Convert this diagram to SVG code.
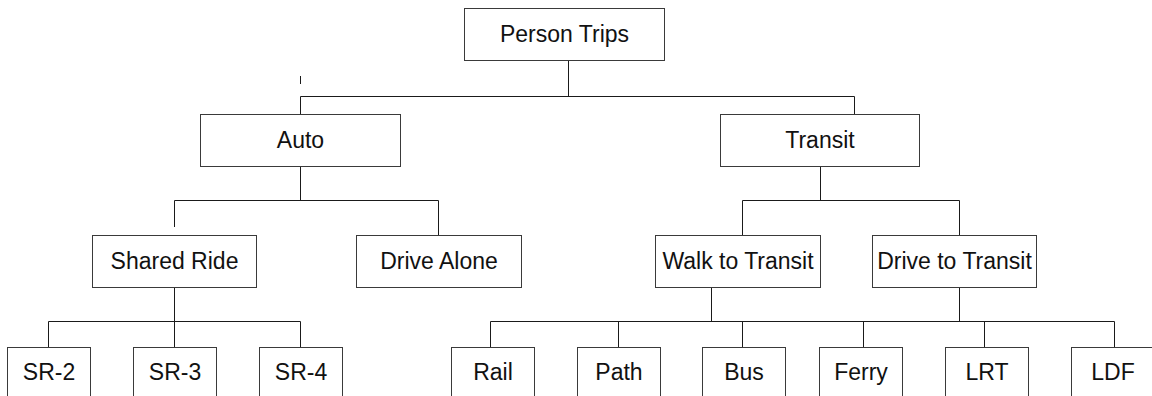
<svg xmlns="http://www.w3.org/2000/svg" width="1152" height="396" viewBox="0 0 1152 396">
  <style>
    .box { fill: #ffffff; stroke: #3a3a3a; stroke-width: 1; }
    .lbl { font-family: "Liberation Sans", Arial, sans-serif; font-size: 23px; fill: #111; text-anchor: middle; }
    .wire { fill: none; stroke: #1a1a1a; stroke-width: 1; }
  </style>
  <rect width="1152" height="396" fill="#ffffff"/>

  <!-- connectors -->
  <g id="connectors" class="wire">
    <path d="M568.5 60.5 V96.5"/>
    <path d="M300.5 114.5 V96.5 H854.5 V114.5"/>
    <path d="M300.5 76 V84"/>
    <path d="M300.5 166.5 V200.5"/>
    <path d="M174.5 227 V200.5 H438.5 V235.5"/>
    <path d="M820.5 166.5 V200.5"/>
    <path d="M742.5 235.5 V200.5 H959.5 V235.5"/>
    <path d="M174.5 287.5 V321.5"/>
    <path d="M48.5 347.5 V321.5 H300.5 V347.5"/>
    <path d="M174.5 321.5 V347.5"/>
    <path d="M711.5 287.5 V321.5"/>
    <path d="M959.5 287.5 V321.5"/>
    <path d="M490.5 347.5 V321.5 H1114.5 V347.5"/>
    <path d="M618.5 321.5 V347.5"/>
    <path d="M742.5 321.5 V347.5"/>
    <path d="M863.5 321.5 V347.5"/>
    <path d="M984.5 321.5 V347.5"/>
  </g>

  <!-- level 0 -->
  <g id="person-trips">
    <rect class="box" x="464.5" y="8.5" width="200" height="52"/>
    <text class="lbl" x="564.5" y="41.5">Person Trips</text>
  </g>

  <!-- level 1 -->
  <g id="auto">
    <rect class="box" x="200.5" y="114.5" width="200" height="52"/>
    <text class="lbl" x="300.5" y="147.5">Auto</text>
  </g>
  <g id="transit">
    <rect class="box" x="720.5" y="114.5" width="199" height="52"/>
    <text class="lbl" x="820" y="147.5">Transit</text>
  </g>

  <!-- level 2 -->
  <g id="shared-ride">
    <rect class="box" x="92.5" y="235.5" width="164" height="52"/>
    <text class="lbl" x="174.5" y="268.5">Shared Ride</text>
  </g>
  <g id="drive-alone">
    <rect class="box" x="356.5" y="235.5" width="165" height="52"/>
    <text class="lbl" x="439" y="268.5">Drive Alone</text>
  </g>
  <g id="walk-to-transit">
    <rect class="box" x="655.5" y="235.5" width="165" height="52"/>
    <text class="lbl" x="738" y="268.5">Walk to Transit</text>
  </g>
  <g id="drive-to-transit">
    <rect class="box" x="872.5" y="235.5" width="164" height="52"/>
    <text class="lbl" x="954.5" y="268.5">Drive to Transit</text>
  </g>

  <!-- level 3 (boxes run past the bottom edge) -->
  <g id="sr-2">
    <rect class="box" x="7.5" y="347.5" width="83" height="52"/>
    <text class="lbl" x="49" y="380">SR-2</text>
  </g>
  <g id="sr-3">
    <rect class="box" x="133.5" y="347.5" width="83" height="52"/>
    <text class="lbl" x="175" y="380">SR-3</text>
  </g>
  <g id="sr-4">
    <rect class="box" x="259.5" y="347.5" width="83" height="52"/>
    <text class="lbl" x="301" y="380">SR-4</text>
  </g>
  <g id="rail">
    <rect class="box" x="451.5" y="347.5" width="83" height="52"/>
    <text class="lbl" x="493" y="380">Rail</text>
  </g>
  <g id="path">
    <rect class="box" x="577.5" y="347.5" width="83" height="52"/>
    <text class="lbl" x="619" y="380">Path</text>
  </g>
  <g id="bus">
    <rect class="box" x="702.5" y="347.5" width="83" height="52"/>
    <text class="lbl" x="744" y="380">Bus</text>
  </g>
  <g id="ferry">
    <rect class="box" x="819.5" y="347.5" width="83" height="52"/>
    <text class="lbl" x="861" y="380">Ferry</text>
  </g>
  <g id="lrt">
    <rect class="box" x="945.5" y="347.5" width="83" height="52"/>
    <text class="lbl" x="987" y="380">LRT</text>
  </g>
  <g id="ldf">
    <rect class="box" x="1071.5" y="347.5" width="83" height="52"/>
    <text class="lbl" x="1113" y="380">LDF</text>
  </g>
</svg>
